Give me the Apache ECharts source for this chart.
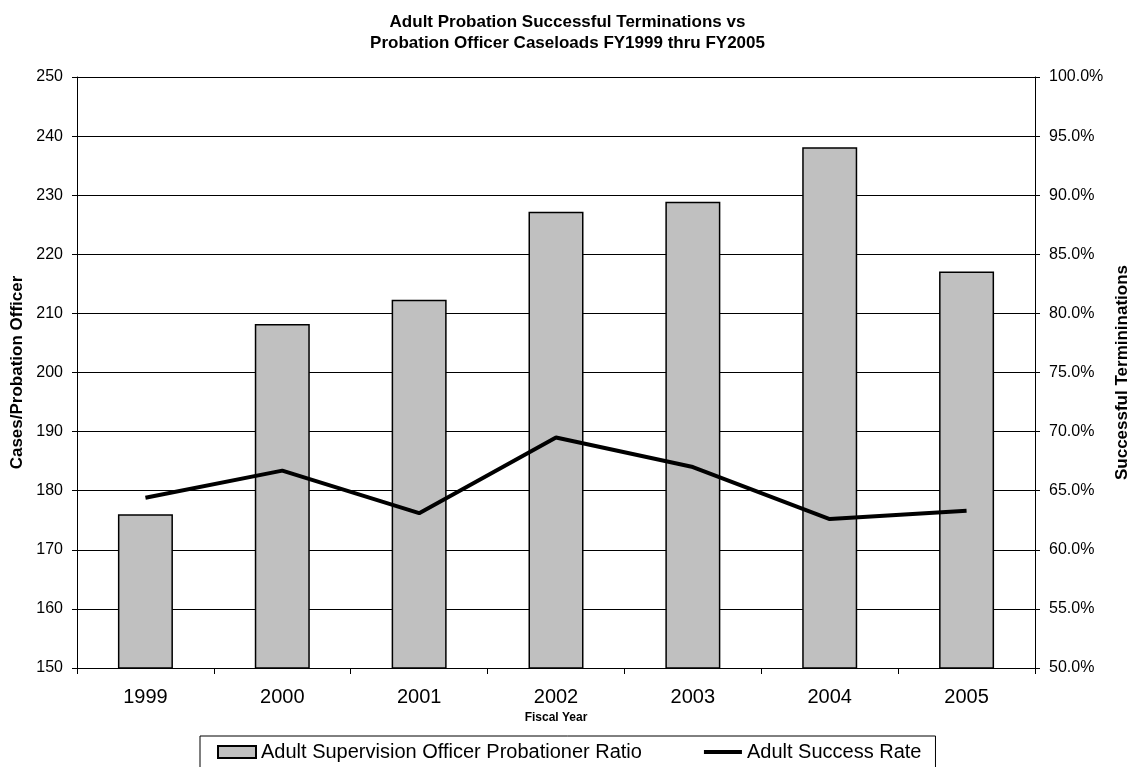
<!DOCTYPE html>
<html>
<head>
<meta charset="utf-8">
<title>Adult Probation Successful Terminations vs Probation Officer Caseloads</title>
<script src="https://cdn.jsdelivr.net/npm/echarts@6/dist/echarts.min.js"></script>
<style>
  html, body { margin: 0; padding: 0; background: #fff; }
  #chart { width: 1135px; height: 767px; }
</style>
</head>
<body>
<div id="chart"></div>
<script>
// Fiscal years on the category axis
const fiscalYears = ['1999', '2000', '2001', '2002', '2003', '2004', '2005'];
// Cases per probation officer (left axis)
const officerRatio = [176, 208.2, 212.3, 227.2, 228.9, 238.1, 217.1];
// Successful termination rate in percent (right axis)
const successRate = [64.4, 66.7, 63.1, 69.5, 67.0, 62.6, 63.3];

const FONT = '"Liberation Sans", Arial, sans-serif';

// Thick horizontal stroke for the line series' legend key; the two empty
// sub-paths stretch the bounding box so the bar stays thin inside it.
const LINE_KEY = 'path://M0,0L0,0ZM0,4L38,4L38,8L0,8ZM0,12L0,12Z';

const chart = echarts.init(document.getElementById('chart'), null, { renderer: 'canvas' });

chart.setOption({
  backgroundColor: '#ffffff',
  animation: false,
  textStyle: { fontFamily: FONT, color: '#000' },
  title: {
    text: 'Adult Probation Successful Terminations vs\nProbation Officer Caseloads FY1999 thru FY2005',
    left: 'center',
    top: 7,
    textStyle: { fontFamily: FONT, fontSize: 17, fontWeight: 'bold', color: '#000', lineHeight: 21 }
  },
  legend: {
    left: 200,
    top: 736,
    padding: [6, 14, 6, 17],
    itemWidth: 38,
    itemHeight: 12,
    itemGap: 62,
    symbolKeepAspect: false,
    borderColor: '#000',
    borderWidth: 1,
    backgroundColor: '#fff',
    textStyle: { fontFamily: FONT, fontSize: 20, color: '#000', padding: [0, 0, 0, 0] },
    data: [
      { name: 'Adult Supervision Officer Probationer Ratio', icon: 'rect' },
      { name: 'Adult Success Rate', icon: LINE_KEY, itemStyle: { color: '#000', borderWidth: 0 } }
    ]
  },
  grid: { left: 77, right: 100, top: 77, height: 591, containLabel: false, outerBoundsMode: 'none' },
  xAxis: {
    type: 'category',
    data: fiscalYears,
    name: 'Fiscal Year',
    nameLocation: 'middle',
    nameGap: 42,
    nameTextStyle: { fontFamily: FONT, fontSize: 12, fontWeight: 'bold', color: '#000' },
    axisLine: { lineStyle: { color: '#000', width: 1 } },
    axisTick: { show: true, length: 6, lineStyle: { color: '#000' } },
    axisLabel: { fontFamily: FONT, fontSize: 20, color: '#000', margin: 19 },
    splitLine: { show: false }
  },
  yAxis: [
    {
      type: 'value',
      min: 150,
      max: 250,
      interval: 10,
      position: 'left',
      name: 'Cases/Probation Officer',
      nameLocation: 'middle',
      nameRotate: 90,
      nameGap: 49,
      nameTextStyle: { fontFamily: FONT, fontSize: 17, fontWeight: 'bold', color: '#000' },
      axisLine: { show: true, lineStyle: { color: '#000', width: 1 } },
      axisTick: { show: true, length: 5, lineStyle: { color: '#000' } },
      axisLabel: { fontFamily: FONT, fontSize: 16, color: '#000', margin: 14 },
      splitLine: { show: true, lineStyle: { color: '#000', width: 1 } }
    },
    {
      type: 'value',
      min: 50,
      max: 100,
      interval: 5,
      position: 'right',
      name: 'Successful Termininations',
      nameLocation: 'middle',
      nameRotate: 90,
      nameGap: 77,
      nameTextStyle: { fontFamily: FONT, fontSize: 17, fontWeight: 'bold', color: '#000' },
      axisLine: { show: true, lineStyle: { color: '#000', width: 1 } },
      axisTick: { show: true, length: 5, lineStyle: { color: '#000' } },
      axisLabel: {
        fontFamily: FONT, fontSize: 16, color: '#000', margin: 14,
        formatter: v => v.toFixed(1) + '%'
      },
      splitLine: { show: false }
    }
  ],
  series: [
    {
      name: 'Adult Supervision Officer Probationer Ratio',
      type: 'bar',
      yAxisIndex: 0,
      data: officerRatio,
      barWidth: 55,
      itemStyle: { color: '#c0c0c0', borderColor: '#000', borderWidth: 1.5 }
    },
    {
      name: 'Adult Success Rate',
      type: 'line',
      yAxisIndex: 1,
      data: successRate,
      symbol: 'none',
      lineStyle: { color: '#000', width: 4 },
      itemStyle: { color: '#000' }
    }
  ]
});
</script>
</body>
</html>
